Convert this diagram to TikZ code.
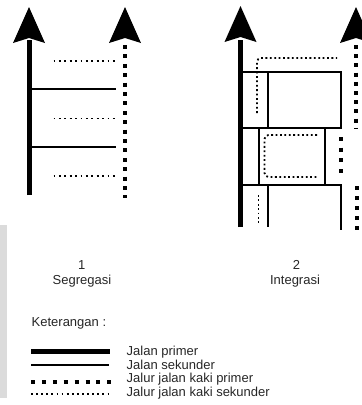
\documentclass[tikz,border=0pt]{standalone}
\usepackage{fontspec}
\setmainfont{Liberation Sans}
\begin{document}
\begin{tikzpicture}[x=1pt,y=-1pt,
  primer/.style={line width=5pt},
  sekunder/.style={line width=2pt},
  kakiprimer/.style={line width=4pt, dash pattern=on 4pt off 5.4pt},
  kakisekunder/.style={line width=1.8pt, dash pattern=on 1.8pt off 3.6pt},
  label/.style={font=\fontsize{13}{15}\selectfont, text=black!85, inner sep=0pt},
  pics/panah/.style={code={\fill (0,0) -- (-16,36) -- (0,31) -- (16,36) -- cycle;}}]
\useasboundingbox (0,0) rectangle (362,405);
\fill[gray!28] (0,225) rectangle (7,398);

% ---- 1: Segregasi ----
\draw[primer] (29,195) -- (29,40);
\pic at (29,7) {panah};
\draw[kakiprimer] (125,45) -- (125,198);
\pic at (125,7) {panah};
\draw[sekunder] (29,89.3) -- (116,89.3);
\draw[sekunder] (29,147) -- (116,147);
\foreach \yy in {61,118.5,176}
  \draw[kakisekunder] (53.5,\yy) -- (116,\yy);

% ---- 2: Integrasi ----
\draw[primer, line width=4.6pt] (240.5,227) -- (240.5,40);
\pic at (240.5,6) {panah};
\pic at (356,7) {panah};
% blocks
\draw[sekunder] (240,71.5) -- (341,71.5) -- (341,128);
\draw[sekunder] (267.5,71.5) -- (267.5,128);
\draw[sekunder] (240,128) -- (342,128);
\draw[sekunder] (259,128) -- (259,185);
\draw[sekunder] (325,128) -- (325,185);
\draw[sekunder] (240,185) -- (341,185) -- (341,230);
\draw[sekunder] (267.5,185) -- (267.5,227);
% footpaths
\draw[kakisekunder, dash pattern=on 1.8pt off 2.6pt, rounded corners=4pt]
  (257,113) -- (257,58) -- (337,58);
\draw[kakisekunder, dash pattern=on 1.8pt off 2.6pt, rounded corners=4pt]
  (317,135) -- (264.5,135) -- (264.5,177) -- (317,177);
\draw[kakisekunder, dash pattern=on 1.8pt off 2.6pt] (258.5,195) -- (258.5,223);
\draw[kakiprimer, dash pattern=on 4pt off 5.2pt] (355.5,45) -- (355.5,129);
\draw[kakiprimer, dash pattern=on 4pt off 6.7pt] (341,137) -- (341,174);
\draw[kakiprimer, dash pattern=on 4pt off 6pt] (356.5,186) -- (356.5,231);

% ---- captions ----
\node[label, anchor=base] (n1) at (81.7,269) {1};
\node[label, anchor=base] (seg) at (82,284.3) {Segregasi};
\node[label, anchor=base] (n2) at (296.5,269) {2};
\node[label, anchor=base] (int) at (295,284.3) {Integrasi};

% ---- legend ----
\node[label, anchor=base west] (ket) at (31.5,326) {Keterangan :};
\draw[primer] (31,351.7) -- (110,351.7);
\draw[sekunder, line width=2.5pt] (31,365) -- (109,365);
\draw[kakiprimer, dash pattern=on 4pt off 6.9pt] (31,381.7) -- (111,381.7);
\draw[kakisekunder, dash pattern=on 1.8pt off 3.3pt] (31,394) -- (110,394);
\node[label, anchor=base west] (l1) at (126.5,355.5) {Jalan primer};
\node[label, anchor=base west] (l2) at (126.5,369) {Jalan sekunder};
\node[label, anchor=base west] (l3) at (126.5,382.5) {Jalur jalan kaki primer};
\node[label, anchor=base west] (l4) at (126.5,396) {Jalur jalan kaki sekunder};
\end{tikzpicture}
\end{document}
